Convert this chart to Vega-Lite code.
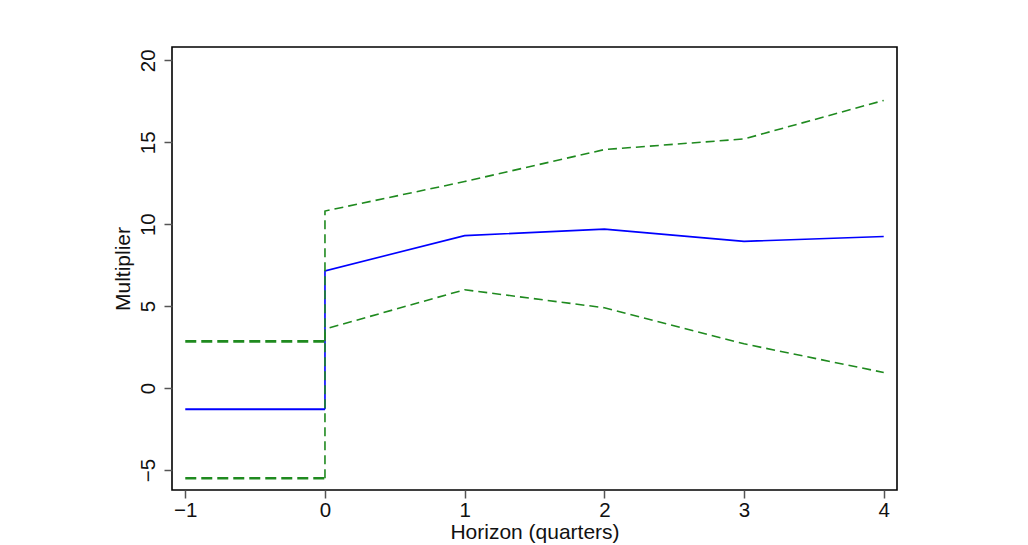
{
  "$schema": "https://vega.github.io/schema/vega-lite/v6.json",
  "width": 725,
  "height": 443,
  "autosize": {"type": "none"},
  "padding": {"left": 172, "top": 47, "right": 131, "bottom": 55},
  "background": "white",
  "config": {
    "font": "Liberation Sans",
    "view": {"stroke": "black", "strokeWidth": 1.6},
    "axis": {
      "grid": false,
      "domain": false,
      "tickColor": "#555555",
      "tickSize": 8,
      "tickWidth": 1.5,
      "labelFont": "Liberation Sans",
      "labelFontSize": 20.5,
      "labelColor": "#111111",
      "titleFont": "Liberation Sans",
      "titleFontSize": 21,
      "titleFontWeight": "normal",
      "titleColor": "#111111"
    }
  },
  "data": {
    "values": [
      {"series": "estimate", "period": "pre", "order": 1, "horizon": -1, "value": -1.3},
      {"series": "estimate", "period": "pre", "order": 2, "horizon": 0, "value": -1.3},
      {"series": "estimate", "period": "post", "order": 1, "horizon": 0, "value": -1.3},
      {"series": "estimate", "period": "post", "order": 2, "horizon": 0, "value": 7.15},
      {"series": "estimate", "period": "post", "order": 3, "horizon": 1, "value": 9.3},
      {"series": "estimate", "period": "post", "order": 4, "horizon": 2, "value": 9.7},
      {"series": "estimate", "period": "post", "order": 5, "horizon": 3, "value": 8.95},
      {"series": "estimate", "period": "post", "order": 6, "horizon": 4, "value": 9.25},
      {"series": "upper", "period": "pre", "order": 1, "horizon": -1, "value": 2.85},
      {"series": "upper", "period": "pre", "order": 2, "horizon": 0, "value": 2.85},
      {"series": "upper", "period": "post", "order": 1, "horizon": 0, "value": 2.85},
      {"series": "upper", "period": "post", "order": 2, "horizon": 0, "value": 10.8},
      {"series": "upper", "period": "post", "order": 3, "horizon": 1, "value": 12.6},
      {"series": "upper", "period": "post", "order": 4, "horizon": 2, "value": 14.55},
      {"series": "upper", "period": "post", "order": 5, "horizon": 3, "value": 15.2},
      {"series": "upper", "period": "post", "order": 6, "horizon": 4, "value": 17.55},
      {"series": "lower", "period": "pre", "order": 1, "horizon": -1, "value": -5.5},
      {"series": "lower", "period": "pre", "order": 2, "horizon": 0, "value": -5.5},
      {"series": "lower", "period": "post", "order": 1, "horizon": 0, "value": -5.5},
      {"series": "lower", "period": "post", "order": 2, "horizon": 0, "value": 3.6},
      {"series": "lower", "period": "post", "order": 3, "horizon": 1, "value": 6.0},
      {"series": "lower", "period": "post", "order": 4, "horizon": 2, "value": 4.9},
      {"series": "lower", "period": "post", "order": 5, "horizon": 3, "value": 2.7},
      {"series": "lower", "period": "post", "order": 6, "horizon": 4, "value": 0.95}
    ]
  },
  "encoding": {
    "x": {
      "field": "horizon",
      "type": "quantitative",
      "scale": {"domain": [-1.095, 4.095], "nice": false, "zero": false},
      "axis": {"values": [-1, 0, 1, 2, 3, 4], "title": "Horizon (quarters)", "labelPadding": 2, "titlePadding": 1}
    },
    "y": {
      "field": "value",
      "type": "quantitative",
      "scale": {"domain": [-6.22, 20.81], "nice": false, "zero": false},
      "axis": {
        "values": [-5, 0, 5, 10, 15, 20],
        "title": "Multiplier",
        "labelAngle": -90,
        "labelAlign": "center",
        "labelBaseline": "bottom",
        "labelPadding": 6,
        "titlePadding": 5
      }
    },
    "order": {"field": "order", "type": "quantitative"},
    "detail": {"field": "period", "type": "nominal"},
    "color": {
      "field": "series",
      "type": "nominal",
      "scale": {"domain": ["estimate", "upper", "lower"], "range": ["#0000ff", "#1f8a1f", "#1f8a1f"]},
      "legend": null
    }
  },
  "layer": [
    {
      "transform": [{"filter": "datum.series === 'estimate' && datum.period === 'pre'"}],
      "mark": {"type": "line", "strokeWidth": 2}
    },
    {
      "transform": [{"filter": "datum.series === 'estimate' && datum.period === 'post'"}],
      "mark": {"type": "line", "strokeWidth": 1.6}
    },
    {
      "transform": [{"filter": "datum.series !== 'estimate' && datum.period === 'pre'"}],
      "mark": {"type": "line", "strokeWidth": 2.6, "strokeDash": [11, 5]}
    },
    {
      "transform": [{"filter": "datum.series !== 'estimate' && datum.period === 'post'"}],
      "mark": {"type": "line", "strokeWidth": 1.6, "strokeDash": [9, 5]}
    }
  ]
}
